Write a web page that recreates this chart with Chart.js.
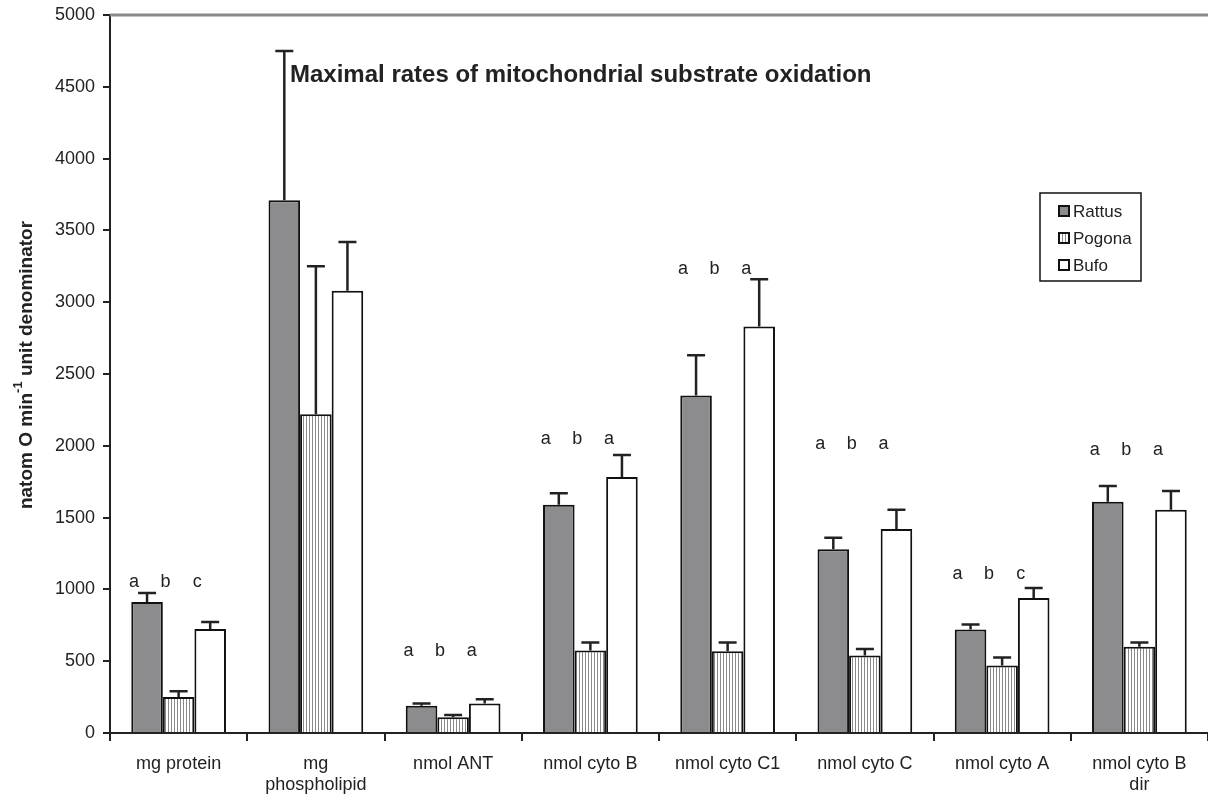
<!DOCTYPE html>
<html>
<head>
<meta charset="utf-8">
<script src="https://cdn.jsdelivr.net/npm/chart.js@4/dist/chart.umd.min.js"></script>
<style>
  html, body { margin: 0; padding: 0; background: #fff; }
  #wrap { width: 1208px; height: 795px; }
</style>
</head>
<body>
<div id="wrap"><canvas id="myChart" width="1208" height="795"></canvas></div>
<script>
// Data
const categories = [
  "mg protein", ["mg", "phospholipid"], "nmol ANT", "nmol cyto B",
  "nmol cyto C1", "nmol cyto C", "nmol cyto A", ["nmol cyto B", "dir"]
];
const rattus = [912, 3710, 190, 1590, 2350, 1280, 720, 1610];
const pogona = [250, 2220, 110, 575, 570, 540, 470, 600];
const bufo = [724, 3080, 205, 1783, 2830, 1420, 940, 1555];
// upper error bar (SE) sizes
const rattusErr = [63, 1040, 15, 80, 280, 80, 35, 110];
const pogonaErr = [40, 1030, 15, 55, 60, 45, 55, 30];
const bufoErr = [49, 340, 30, 153, 330, 135, 70, 130];
// significance letters and the value level they sit at
const letters = [
  ["a", "b", "c"], null, ["a", "b", "a"], ["a", "b", "a"],
  ["a", "b", "a"], ["a", "b", "a"], ["a", "b", "c"], ["a", "b", "a"]
];
const letterLevels = [1020, null, 536, 2010, 3196, 1978, 1072, 1936];
const yTicks = [0, 500, 1000, 1500, 2000, 2500, 3000, 3500, 4000, 4500, 5000];

const titleText = "Maximal rates of mitochondrial substrate oxidation";
const ink = "#222";
const fontFam = "'Liberation Sans', Arial, sans-serif";

function makeStripes() {
  let c = document.createElement("canvas");
  c.width = 3; c.height = 3;
  let g = c.getContext("2d");
  g.fillStyle = "#fff";
  g.fillRect(0, 0, 3, 3);
  g.fillStyle = "#8a8a8a";
  g.fillRect(0, 0, 1, 3);
  return g.createPattern(c, "repeat");
}
const stripes = makeStripes();

const errors = [rattusErr, pogonaErr, bufoErr];

const extrasPlugin = {
  id: "extras",
  afterDatasetsDraw(chart) {
    const ctx = chart.ctx;
    const y = chart.scales.y;
    const area = chart.chartArea;
    ctx.save();

    // error bars (upper only)
    ctx.strokeStyle = ink;
    ctx.lineWidth = 2.5;
    chart.data.datasets.forEach((ds, di) => {
      const meta = chart.getDatasetMeta(di);
      meta.data.forEach((bar, j) => {
        const top = y.getPixelForValue(ds.data[j]);
        const end = y.getPixelForValue(ds.data[j] + errors[di][j]);
        ctx.beginPath();
        ctx.moveTo(bar.x, top);
        ctx.lineTo(bar.x, end);
        ctx.moveTo(bar.x - 9, end);
        ctx.lineTo(bar.x + 9, end);
        ctx.stroke();
      });
    });

    // top border line at 5000
    ctx.strokeStyle = "#8a8a8a";
    ctx.lineWidth = 3;
    ctx.beginPath();
    ctx.moveTo(area.left, area.top);
    ctx.lineTo(area.right, area.top);
    ctx.stroke();

    // significance letters
    ctx.fillStyle = ink;
    ctx.font = "18px " + fontFam;
    ctx.textAlign = "center";
    ctx.textBaseline = "alphabetic";
    letters.forEach((set, j) => {
      if (!set) return;
      const ly = y.getPixelForValue(letterLevels[j]);
      set.forEach((t, di) => {
        const bar = chart.getDatasetMeta(di).data[j];
        ctx.fillText(t, bar.x - 13, ly);
      });
    });

    // title
    ctx.font = "bold 24px " + fontFam;
    ctx.textAlign = "left";
    ctx.fillText(titleText, area.left + 180, area.top + 67);

    // legend
    const lx = area.left + 930, ly = area.top + 178;
    ctx.strokeStyle = "#111";
    ctx.lineWidth = 1.5;
    ctx.strokeRect(lx, ly, 101, 88);
    ctx.font = "17px " + fontFam;
    chart.data.datasets.forEach((ds, di) => {
      const ry = ly + 18 + di * 27;
      ctx.fillStyle = ds.backgroundColor;
      ctx.fillRect(lx + 19, ry - 5, 10, 10);
      ctx.strokeStyle = "#111";
      ctx.lineWidth = 2;
      ctx.strokeRect(lx + 19, ry - 5, 10, 10);
      ctx.fillStyle = ink;
      ctx.textBaseline = "middle";
      ctx.fillText(ds.label, lx + 33, ry + 1);
    });

    // y axis title with superscript
    ctx.translate(25, 365);
    ctx.rotate(-Math.PI / 2);
    ctx.textBaseline = "alphabetic";
    const p1 = "natom O min", sup = "-1", p2 = " unit denominator";
    const f = "bold 19px " + fontFam;
    const fs = "bold 13px " + fontFam;
    ctx.font = f;
    const w1 = ctx.measureText(p1).width, w3 = ctx.measureText(p2).width;
    ctx.font = fs;
    const w2 = ctx.measureText(sup).width;
    let x0 = -(w1 + w2 + w3) / 2;
    ctx.font = f;
    ctx.fillText(p1, x0, 7);
    ctx.font = fs;
    ctx.fillText(sup, x0 + w1, -3);
    ctx.font = f;
    ctx.fillText(p2, x0 + w1 + w2, 7);

    ctx.restore();
  }
};

const config = {
  type: "bar",
  data: {
    labels: categories,
    datasets: [
      { label: "Rattus", data: rattus, backgroundColor: "#8c8c8e" },
      { label: "Pogona", data: pogona, backgroundColor: stripes },
      { label: "Bufo", data: bufo, backgroundColor: "#ffffff" }
    ].map(d => Object.assign(d, {
      borderColor: "#111",
      borderWidth: 2,
      borderSkipped: "bottom",
      categoryPercentage: 0.69,
      barPercentage: 1.0
    }))
  },
  options: {
    responsive: false,
    animation: false,
    devicePixelRatio: 1,
    layout: { padding: { top: 15, right: 0, left: 0, bottom: 0 } },
    plugins: {
      legend: { display: false },
      tooltip: { enabled: false }
    },
    scales: {
      x: {
        grid: { display: true, drawOnChartArea: false, drawTicks: true, tickLength: 8, color: ink, lineWidth: 2 },
        border: { display: true, color: ink, width: 2 },
        ticks: {
          color: ink,
          font: { family: fontFam, size: 18, lineHeight: 1.2 },
          padding: 12,
          maxRotation: 0,
          autoSkip: false
        },
        afterFit(scale) { scale.height = 62; }
      },
      y: {
        min: 0,
        max: 5000,
        afterBuildTicks(scale) { scale.ticks = yTicks.map(v => ({ value: v })); },
        grid: { display: true, drawOnChartArea: false, drawTicks: true, tickLength: 7, color: ink, lineWidth: 2 },
        border: { display: true, color: ink, width: 2 },
        ticks: {
          color: ink,
          font: { family: fontFam, size: 18 },
          padding: 8,
          callback: v => String(v)
        },
        afterFit(scale) {
          scale.width = 110;
          scale.paddingTop = 0;
          scale.paddingBottom = 0;
        }
      }
    }
  },
  plugins: [extrasPlugin]
};

const myChart = new Chart(document.getElementById("myChart"), config);
</script>
</body>
</html>
